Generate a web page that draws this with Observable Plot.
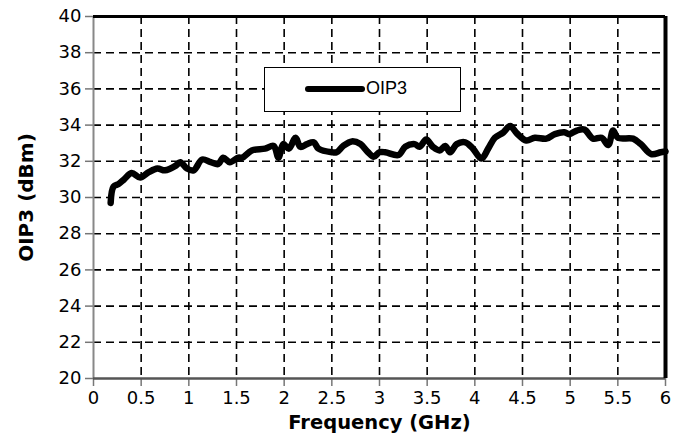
<!DOCTYPE html>
<html>
<head>
<meta charset="utf-8">
<script src="https://cdn.jsdelivr.net/npm/d3@7"></script>
<script src="https://cdn.jsdelivr.net/npm/@observablehq/plot@0.6"></script>
<style>
  html, body { margin: 0; padding: 0; background: #fff; }
  #wrap { position: relative; width: 692px; height: 439px; font-family: "Liberation Sans", Arial, sans-serif; }
  #legend { position: absolute; left: 264px; top: 67px; width: 195px; height: 43px; background: #fff; border: 1.5px solid #000; box-sizing: content-box; }
  #legend svg { position: absolute; left: 0; top: 0; }
  #legend span { position: absolute; left: 101px; top: 10px; font-size: 18px; color: #000; }
  g[aria-label="x-axis tick label"], g[aria-label="y-axis tick label"] { font-size: 18px; }
  g[aria-label="x-axis label"] { font-weight: bold; font-size: 19.5px; }
  g[aria-label="y-axis label"] { font-weight: bold; font-size: 20px; }
</style>
</head>
<body>
<div id="wrap">
  <div id="chart"></div>
  <div id="legend"><svg width="100" height="43"><line x1="43" y1="21" x2="97" y2="21" stroke="#000" stroke-width="6" stroke-linecap="round"/></svg><span>OIP3</span></div>
</div>
<script>
const freqGHz = [0.18,0.21,0.265,0.32,0.40,0.49,0.58,0.67,0.75,0.86,0.91,0.98,1.05,1.14,1.23,1.31,1.36,1.43,1.52,1.56,1.66,1.80,1.89,1.94,1.99,2.05,2.12,2.17,2.24,2.31,2.36,2.50,2.55,2.62,2.71,2.80,2.88,2.94,3.00,3.06,3.20,3.27,3.37,3.42,3.49,3.56,3.63,3.69,3.74,3.81,3.90,3.98,4.07,4.14,4.21,4.30,4.37,4.44,4.54,4.63,4.75,4.84,4.94,4.99,5.07,5.15,5.24,5.33,5.40,5.45,5.50,5.66,5.74,5.85,5.95,6.0];
const oip3dBm = [29.7,30.6,30.75,31.0,31.35,31.1,31.4,31.6,31.5,31.75,31.95,31.6,31.5,32.1,31.95,31.85,32.2,31.95,32.2,32.2,32.6,32.7,32.85,32.2,32.95,32.7,33.3,32.8,32.95,33.05,32.7,32.5,32.5,32.85,33.1,32.95,32.5,32.25,32.5,32.5,32.35,32.8,32.95,32.8,33.2,32.8,32.6,32.85,32.5,32.95,33.05,32.7,32.15,32.7,33.3,33.6,33.95,33.55,33.15,33.3,33.25,33.5,33.6,33.5,33.7,33.75,33.25,33.3,32.9,33.7,33.3,33.25,32.95,32.4,32.5,32.55];
const xTicks = [0,0.5,1,1.5,2,2.5,3,3.5,4,4.5,5,5.5,6];
const yTicks = [20,22,24,26,28,30,32,34,36,38,40];
const seriesName = "OIP3";
const xLabel = "Frequency (GHz)";
const yLabel = "OIP3 (dBm)";

const data = freqGHz.map((f, i) => ({f, v: oip3dBm[i]}));
const xGrid = xTicks.slice(1, -1);
const yGrid = yTicks.slice(1, -1);

const chart = Plot.plot({
  width: 692,
  height: 439,
  marginLeft: 93,
  marginRight: 27,
  marginTop: 16,
  marginBottom: 61,
  style: {fontSize: "18px", fontFamily: "'DejaVu Sans', sans-serif", color: "#000", background: "#fff"},
  x: {domain: [0, 6]},
  y: {domain: [20, 40]},
  marks: [
    Plot.gridX(xGrid, {stroke: "#000", strokeOpacity: 1, strokeWidth: 1.6, strokeDasharray: "8,5"}),
    Plot.gridY(yGrid, {stroke: "#000", strokeOpacity: 1, strokeWidth: 1.6, strokeDasharray: "8,5"}),
    Plot.axisX(xTicks, {tickSize: 8, stroke: "#777", strokeWidth: 1.5, tickPadding: 5, tickFormat: d => String(d), label: xLabel, labelAnchor: "center", labelArrow: "none", labelOffset: 50}),
    Plot.axisY(yTicks, {tickSize: 8, stroke: "#777", strokeWidth: 1.5, tickPadding: 4, tickFormat: d => String(d), label: yLabel, labelAnchor: "center", labelArrow: "none", labelOffset: 75}),
    Plot.ruleX([0], {stroke: "#888", strokeWidth: 2}),
    Plot.ruleY([20], {stroke: "#555", strokeWidth: 2.5}),
    Plot.ruleY([40], {stroke: "#000", strokeWidth: 3}),
    Plot.ruleX([6], {stroke: "#000", strokeWidth: 4}),
    Plot.line(data, {x: "f", y: "v", stroke: "#000", strokeWidth: 6.5, strokeLinejoin: "round", strokeLinecap: "round", curve: "catmull-rom"})
  ]
});
document.getElementById("chart").appendChild(chart);
document.querySelector("#legend span").textContent = seriesName;
</script>
</body>
</html>
